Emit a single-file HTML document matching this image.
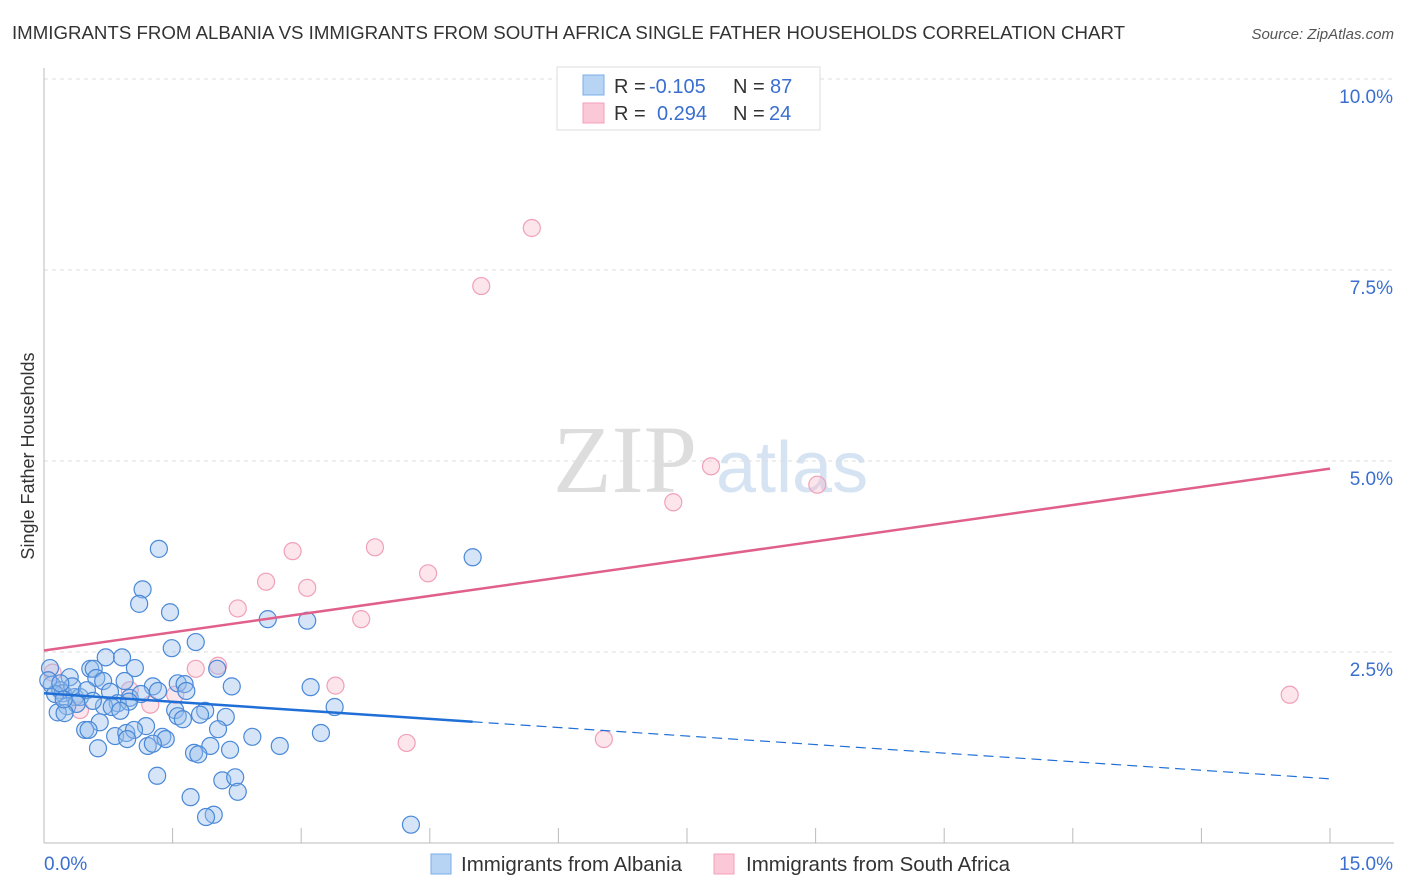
<!DOCTYPE html>
<html><head><meta charset="utf-8"><style>
body{margin:0;background:#fff;font-family:"Liberation Sans",sans-serif;}
#wrap{position:relative;width:1406px;height:892px;overflow:hidden}
</style></head><body>
<div id="wrap">
<svg id="svg" width="1406" height="892" xmlns="http://www.w3.org/2000/svg">
<text x="12" y="39" font-size="18" fill="#333" textLength="1113" lengthAdjust="spacingAndGlyphs">IMMIGRANTS FROM ALBANIA VS IMMIGRANTS FROM SOUTH AFRICA SINGLE FATHER HOUSEHOLDS CORRELATION CHART</text>
<text x="1394" y="39" font-size="15" fill="#555" font-style="italic" text-anchor="end">Source: ZipAtlas.com</text>
<text x="34" y="456" font-size="18" fill="#333" text-anchor="middle" transform="rotate(-90 34 456)">Single Father Households</text>
<text x="553" y="492" font-size="96" fill="#ddd" font-family="Liberation Serif">ZIP</text>
<text x="716" y="492" font-size="72" fill="#d5e3f3">atlas</text>
<g id="grid"></g><g id="axes"></g><g id="pts"></g><g id="lines"></g>
<g>
<rect x="557" y="67" width="263" height="63" fill="#fff" stroke="#ddd"/>
<rect x="583" y="75" width="21" height="20" fill="#b8d4f5" stroke="#7aaee8"/>
<rect x="583" y="103" width="21" height="20" fill="#fbc8d8" stroke="#f3a0ba"/>
<text x="614" y="93" font-size="20" fill="#333">R =</text>
<text x="649" y="93" font-size="20" fill="#3a6fd0">-0.105</text>
<text x="733" y="93" font-size="20" fill="#333">N =</text>
<text x="770" y="93" font-size="20" fill="#3a6fd0">87</text>
<text x="614" y="120" font-size="20" fill="#333">R =</text>
<text x="657" y="120" font-size="20" fill="#3a6fd0">0.294</text>
<text x="733" y="120" font-size="20" fill="#333">N =</text>
<text x="769" y="120" font-size="20" fill="#3a6fd0">24</text>
</g>
<g>
<rect x="431" y="854" width="20" height="20" fill="#b8d4f5" stroke="#7aaee8"/>
<text x="461" y="871" font-size="20" fill="#333" textLength="221" lengthAdjust="spacingAndGlyphs">Immigrants from Albania</text>
<rect x="714" y="854" width="20" height="20" fill="#fbc8d8" stroke="#f3a0ba"/>
<text x="746" y="871" font-size="20" fill="#333" textLength="264" lengthAdjust="spacingAndGlyphs">Immigrants from South Africa</text>
</g>
</svg></div>
<script>
const yTicks=[2.5,5.0,7.5,10.0];
const yTickLabels=["2.5%","5.0%","7.5%","10.0%"];
const xTickLabels=["0.0%","15.0%"];
const blueX=[1.34,1.15,1.11,1.47,2.61,3.07,5.00,1.77,1.49,0.91,0.72,0.54,0.58,1.06,0.07,2.02,0.30,0.09,0.19,0.61,0.69,0.94,1.27,1.56,1.64,2.19,3.11,0.22,0.36,0.42,0.77,1.00,1.13,1.33,0.86,0.99,0.27,0.38,0.70,0.79,1.53,1.88,1.56,1.62,2.12,3.39,0.16,0.24,0.65,1.19,2.03,0.48,0.52,0.83,0.96,1.05,1.38,1.42,2.43,3.23,0.97,0.63,1.21,1.27,1.94,2.17,2.75,1.75,1.80,1.32,2.08,2.23,2.26,1.71,1.98,1.89,4.28,0.13,0.05,0.33,0.50,0.19,0.57,1.66,0.23,1.82,0.89];
const blueY=[3.85,3.32,3.13,3.02,2.93,2.91,3.74,2.63,2.55,2.43,2.43,2.28,2.28,2.29,2.29,2.28,2.17,2.07,2.00,2.16,2.12,2.12,2.05,2.09,2.08,2.05,2.04,1.96,1.91,1.91,1.98,1.90,1.95,1.99,1.83,1.85,1.79,1.82,1.79,1.78,1.74,1.73,1.66,1.62,1.65,1.78,1.71,1.70,1.58,1.53,1.49,1.48,1.48,1.40,1.44,1.48,1.39,1.36,1.39,1.44,1.36,1.24,1.27,1.30,1.27,1.22,1.27,1.18,1.16,0.88,0.82,0.86,0.67,0.60,0.37,0.34,0.24,1.95,2.13,2.05,2.00,2.09,1.86,1.99,1.88,1.68,1.73];
const pinkX=[5.69,5.10,7.78,9.02,7.34,2.90,3.86,2.59,3.07,4.48,2.26,3.70,1.77,2.03,1.53,1.24,3.40,4.23,6.53,14.53,0.10,0.42,1.00,0.19];
const pinkY=[8.05,7.29,4.93,4.69,4.46,3.82,3.87,3.42,3.34,3.53,3.07,2.93,2.28,2.32,1.94,1.81,2.06,1.31,1.36,1.94,2.23,1.74,2.00,2.00];
const blueTrend=[1.96,0.84], pinkTrend=[2.52,4.90];
const NS="http://www.w3.org/2000/svg";
const X=v=>44+v/15*1286, Y=v=>843-v*76.4;
function mk(t,a,p){const e=document.createElementNS(NS,t);for(const k in a)e.setAttribute(k,a[k]);p.appendChild(e);return e;}
const grid=document.getElementById('grid'),axes=document.getElementById('axes'),pts=document.getElementById('pts'),lines=document.getElementById('lines');
yTicks.forEach((v,i)=>{const l=mk('line',{x1:44,x2:1394,y1:Y(v),y2:Y(v),stroke:'#ddd','stroke-dasharray':'4,4'},grid);

const t=mk('text',{x:1393,y:Y(v)+24,'font-size':19,fill:'#3a6fd0','text-anchor':'end'},axes);t.textContent=yTickLabels[i];
});
const ax=mk('line',{x1:44,x2:44,y1:68,y2:843,stroke:'#bbb'},axes);
const bx=mk('line',{x1:44,x2:1394,y1:843,y2:843,stroke:'#bbb'},axes);
for(let i=0;i<=10;i++){const tk=mk('line',{x1:X(i*1.5),x2:X(i*1.5),y1:828,y2:843,stroke:'#bbb'},axes);}
[[0,44,'start'],[15,1393,'end']].forEach((d,i)=>{const t=mk('text',{x:d[1],y:870,'font-size':19,fill:'#3a6fd0','text-anchor':d[2]},axes);t.textContent=xTickLabels[i];});
pinkX.forEach((x,i)=>{const c=mk('circle',{cx:X(x),cy:Y(pinkY[i]),r:8.5,fill:'rgba(248,180,200,0.35)',stroke:'#f0a0b8','stroke-width':1.2},pts);
});
blueX.forEach((x,i)=>{const c=mk('circle',{cx:X(x),cy:Y(blueY[i]),r:8.5,fill:'rgba(150,190,235,0.4)',stroke:'#4a88d8','stroke-width':1.2},pts);
});
const bAt=x=>blueTrend[0]+(blueTrend[1]-blueTrend[0])*x/15;
const pl=mk('line',{x1:X(0),y1:Y(pinkTrend[0]),x2:X(15),y2:Y(pinkTrend[1]),stroke:'#e0608a','stroke-width':2.5},lines);

const b1=mk('line',{x1:X(0),y1:Y(bAt(0)),x2:X(5),y2:Y(bAt(5)),stroke:'#1f6fd6','stroke-width':2.5},lines);

const b2=mk('line',{x1:X(5),y1:Y(bAt(5)),x2:X(15),y2:Y(bAt(15)),stroke:'#1f6fd6','stroke-width':1.2,'stroke-dasharray':'10,6'},lines);

</script>
</body></html>
